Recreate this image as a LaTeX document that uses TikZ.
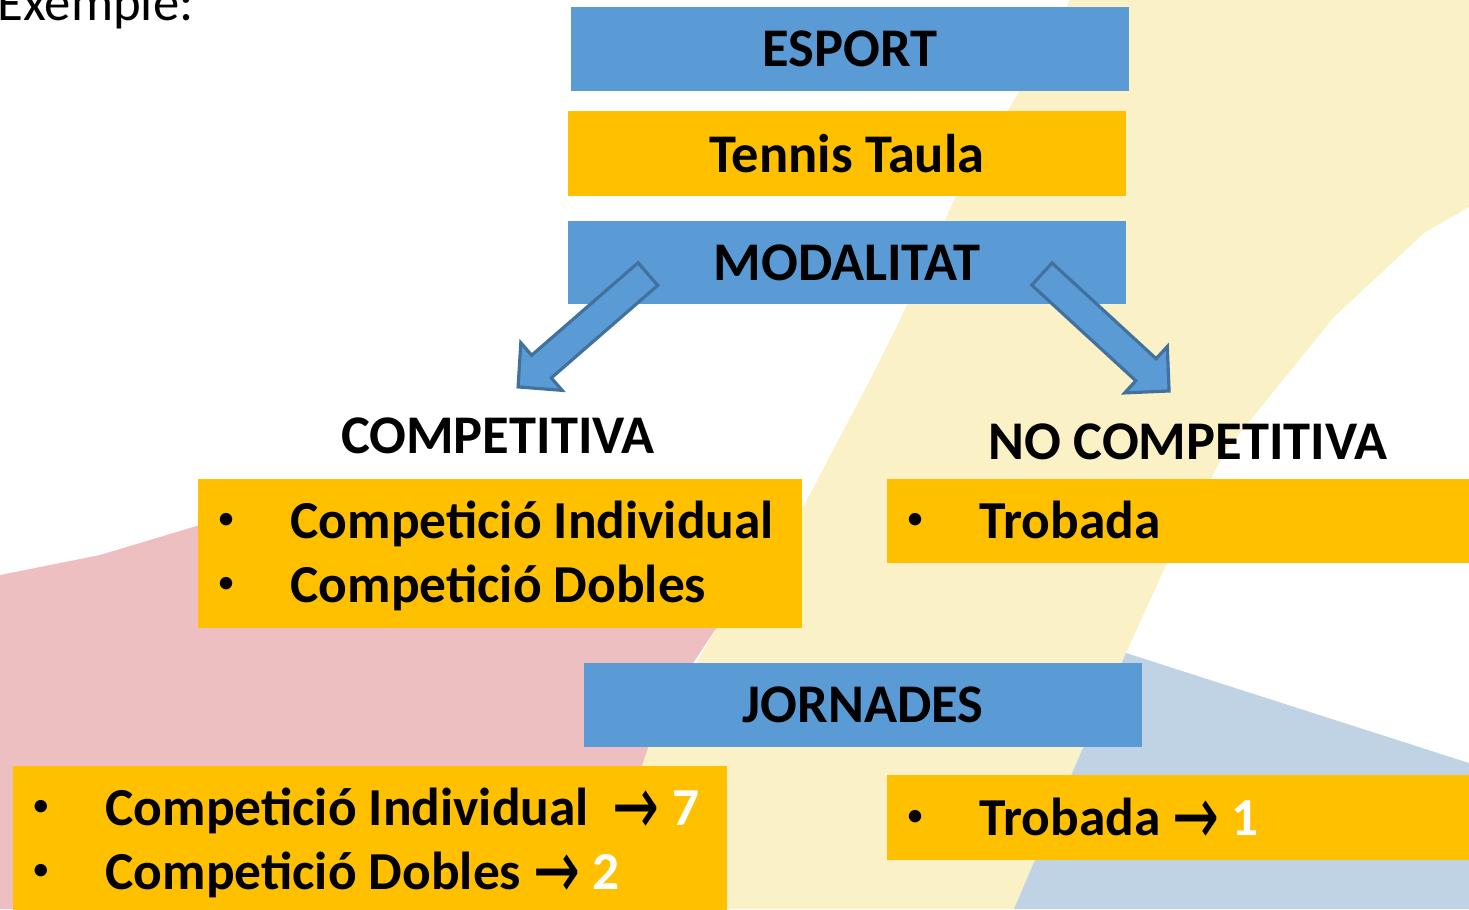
\documentclass[tikz,border=0pt]{standalone}
\usepackage{fontspec}
\setmainfont{Carlito}
\newfontfamily\arrowfont{DejaVu Sans}

\definecolor{boxblue}{HTML}{5B9BD5}
\definecolor{boxgold}{HTML}{FFC000}
\definecolor{arrowline}{HTML}{41719C}
\definecolor{bgpink}{HTML}{EEBFC0}
\definecolor{bgyellow}{HTML}{FAF1C6}
\definecolor{bgblue}{HTML}{C0D3E4}

\newcommand{\rarr}{\raisebox{-2.6pt}{\scalebox{1.05}[1.55]{\arrowfont\mdseries →}}}
\newcommand{\bul}{\raisebox{2.4pt}{\fontsize{10}{12}\selectfont •}}

\tikzset{
  bluebox/.style={fill=boxblue, minimum width=5.58cm, minimum height=0.84cm, inner sep=0pt,
    font=\fontsize{15.5}{18}\selectfont\bfseries},
  goldbox/.style={fill=boxgold, inner sep=0pt, anchor=north west},
  headtext/.style={inner sep=0pt, anchor=base, font=\fontsize{15.5}{18}\selectfont\bfseries},
  itemtext/.style={inner sep=0pt, anchor=base west, font=\fontsize{15.2}{18}\selectfont\bfseries},
  bullet/.style={inner sep=0pt, anchor=base},
  blockarrow/.style={draw=arrowline, fill=boxblue, line width=0.9pt, line join=miter}
}

\begin{document}
\begin{tikzpicture}
    \useasboundingbox (0,0) rectangle (14.69,-9.09);
    % background
    \fill[bgyellow] (10.70,0) -- (14.69,0) -- (14.69,-2.07) -- (14.24,-2.33) -- (13.34,-3.17)
        -- (12.26,-4.50) -- (11.67,-5.63) -- (11.26,-6.53) -- (10.82,-7.50) -- (10.14,-9.09)
        -- (6.00,-9.09) -- (6.43,-7.57) -- (7.17,-6.27) -- (7.60,-6.00) -- (8.00,-5.13)
        -- (8.70,-3.80) -- (9.00,-3.20) -- (9.54,-2.00) -- (10.16,-0.97) -- cycle;
    \fill[bgpink] (0,-5.75) -- (1.00,-5.55) -- (2.00,-5.25) -- (7.80,-5.00) -- (7.60,-6.00)
        -- (7.17,-6.27) -- (6.60,-7.13) -- (6.30,-8.00) -- (6.00,-9.09) -- (0,-9.09) -- cycle;
    \fill[bgblue] (11.26,-6.53) -- (14.69,-7.63) -- (14.69,-9.09) -- (10.14,-9.09) -- (10.82,-7.50) -- cycle;

    \node[anchor=base west, inner sep=0pt, font=\fontsize{15}{18}\selectfont] (title) at (-0.03,-0.20) {Exemple:};

    \node[bluebox] (esport) at (8.50,-0.485) {ESPORT};
    \node[bluebox, fill=boxgold, minimum height=0.85cm] (tennis) at (8.47,-1.535) {Tennis Taula};
    \node[bluebox, minimum height=0.83cm] (modal) at (8.47,-2.625) {MODALITAT};

    % block arrows
    \begin{scope}[shift={(5.83,-3.305)}, rotate=221]
        \draw[blockarrow] (-0.86,-0.15) -- (0.55,-0.15) -- (0.55,-0.315) -- (0.86,0)
            -- (0.55,0.315) -- (0.55,0.15) -- (-0.86,0.15) -- cycle;
    \end{scope}
    \begin{scope}[shift={(11.055,-3.325)}, rotate=317.4]
        \draw[blockarrow] (-0.864,-0.15) -- (0.55,-0.15) -- (0.55,-0.315) -- (0.864,0)
            -- (0.55,0.315) -- (0.55,0.15) -- (-0.864,0.15) -- cycle;
    \end{scope}

    \node[headtext] (comp) at (4.98,-4.53) {COMPETITIVA};
    \node[headtext] (nocomp) at (11.88,-4.59) {NO COMPETITIVA};

    % modalitats
    \node[goldbox, minimum width=6.04cm, minimum height=1.49cm] (compbox) at (1.97,-4.78) {};
    \node[bullet] (cb1) at (2.26,-5.38) {\bul};
    \node[itemtext] (ci1) at (2.90,-5.38) {Competició Individual};
    \node[bullet] (cb2) at (2.26,-6.02) {\bul};
    \node[itemtext] (ci2) at (2.90,-6.02) {Competició Dobles};

    \node[goldbox, minimum width=5.83cm, minimum height=0.84cm] (nocompbox) at (8.86,-4.78) {};
    \node[bullet] (nb1) at (9.15,-5.38) {\bul};
    \node[itemtext] (ni1) at (9.79,-5.38) {Trobada};

    % jornades
    \node[bluebox] (jorn) at (8.63,-7.05) {JORNADES};

    \node[goldbox, minimum width=7.14cm, minimum height=1.50cm] (jcompbox) at (0.12,-7.65) {};
    \node[bullet] (jb1) at (0.41,-8.25) {\bul};
    \node[itemtext] (ji1) at (1.05,-8.25) {Competició Individual\ \ \rarr\ \textcolor{white}{7}};
    \node[bullet] (jb2) at (0.41,-8.89) {\bul};
    \node[itemtext] (ji2) at (1.05,-8.89) {Competició Dobles \rarr\ \textcolor{white}{2}};

    \node[goldbox, minimum width=5.83cm, minimum height=0.85cm] (jnocompbox) at (8.86,-7.74) {};
    \node[bullet] (jnb1) at (9.15,-8.35) {\bul};
    \node[itemtext] (jni1) at (9.79,-8.35) {Trobada \rarr\ \textcolor{white}{1}};
\end{tikzpicture}
\end{document}
